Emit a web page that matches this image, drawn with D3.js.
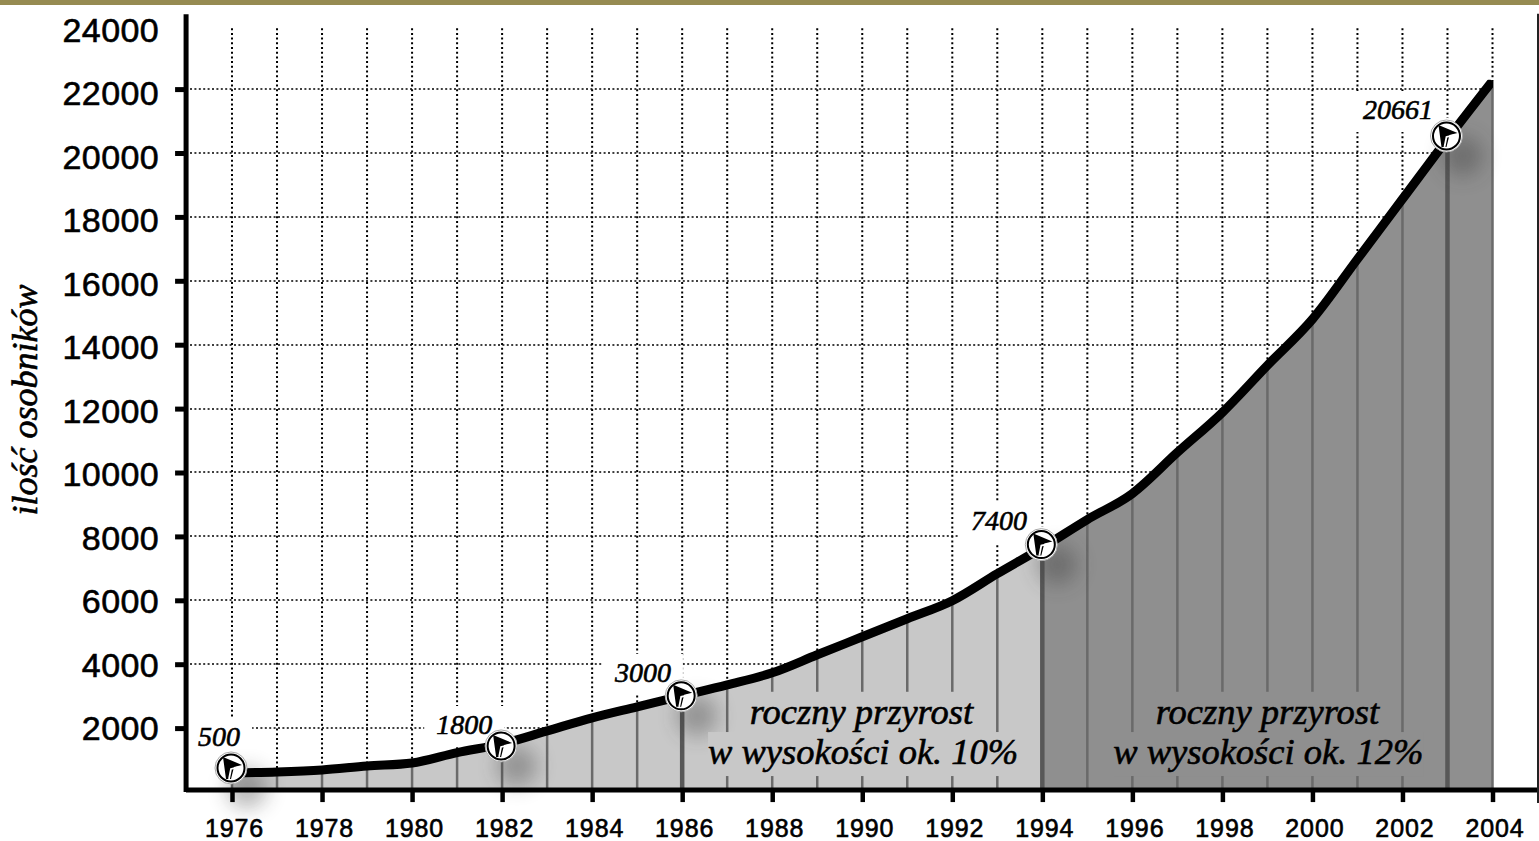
<head>
    <meta name="viewport" content="width=device-width, initial-scale=1">
    <style>
        body { margin: 0; background: #fff; overflow: hidden; }
        #band { height: 5px; background: #968b52; }
        #chart { position: absolute; left: 0; top: 0; }
        .sans { font-family: "Liberation Sans", sans-serif; fill: #000; stroke: #000; stroke-width: 0.6px; }
        .serif { font-family: "Liberation Serif", serif; font-style: italic; fill: #000; stroke: #000; stroke-width: 0.6px; }
    </style>
    <script src="https://d3js.org/d3.v7.min.js"></script>
</head>
<body>
    <div id="band"></div>
    <div id="chart"></div>
    <script>

        var years = d3.range(1976, 2005);
        var population = [595, 627, 690, 815, 909, 1232, 1505, 1912, 2320, 2665, 3010, 3354, 3730, 4295, 4859,
            5423, 5987, 6834, 7650, 8527, 9342, 10627, 11881, 13354, 14796, 16677, 18558, 20439, 22257];

        var yTicks = [2000, 4000, 6000, 8000, 10000, 12000, 14000, 16000, 18000, 20000, 22000, 24000];
        var xTicks = d3.range(1976, 2005, 2);
        var thickYears = [1986, 1994, 2003];
        var splitYear = 1994;

        var markerYears = [1976, 1982, 1986, 1994, 2003];
        var markerValues = [752, 1442, 3010, 7743, 20533];
        var markerLabels = ["500", "1800", "3000", "7400", "20661"];
        var labelYears = [1976.18, 1981.78, 1985.75, 1993.66, 2002.68];
        var labelValues = [1440, 1815, 3443, 8200, 21064];

        var noteLines = ["roczny przyrost", "w wysokości ok. 10%", "roczny przyrost", "w wysokości ok. 12%"];
        var noteYears = [1989.98, 1990.02, 1999, 1999.02];
        var noteValues = [2135, 875, 2135, 875];
        var axisTitle = "ilość osobników";

        var W = 1539, H = 841;

        var svg = d3.select("#chart").append("svg")
            .attr("width", W)
            .attr("height", H);

        var x = d3.scaleLinear().domain([1976, 2004]).range([232, 1492.5]);
        var y = d3.scaleLinear().domain([0, 24000]).range([792, 25.2]);
        var yLabel = d3.scaleLinear().domain([2000, 22000]).range([727.5, 92.5]);

        var base = 60;
        var data = years.map(function(d, i) { return { year: d, value: population[i] }; });

        var defs = svg.append("defs");
        defs.append("filter").attr("id", "blur")
            .attr("x", "-80%").attr("y", "-80%").attr("width", "260%").attr("height", "260%")
            .append("feGaussianBlur").attr("stdDeviation", 10);
        defs.append("clipPath").attr("id", "lineClip")
            .append("rect")
            .attr("x", 0).attr("y", y(22290))
            .attr("width", x(2004) + 0.5).attr("height", H);

        // grid, dotted
        var grid = svg.append("g");
        grid.selectAll(".v").data(years).enter().append("line")
            .attr("x1", d => x(d)).attr("x2", d => x(d))
            .attr("y1", y(24000) + 3).attr("y2", d => y(population[years.indexOf(d)]))
            .attr("stroke", "#000").attr("stroke-width", 2).attr("stroke-dasharray", "2 2.7");
        grid.selectAll(".h").data(yTicks.filter(d => d < 24000)).enter().append("line")
            .attr("x1", x(1976) - 42).attr("x2", x(2004))
            .attr("y1", d => Math.round(y(d))).attr("y2", d => Math.round(y(d)))
            .attr("stroke", "#000").attr("stroke-width", 1.6).attr("stroke-dasharray", "2 2.4");

        var labelMasks = svg.append("g");
        var markerMasks = svg.append("g");

        // area under the curve
        var curve = d3.curveMonotoneX;
        var area = d3.area().curve(curve).x(d => x(d.year)).y0(y(base)).y1(d => y(d.value));
        svg.append("path").datum(data.filter(d => d.year <= splitYear))
            .attr("d", area).attr("fill", "#c8c8c8");
        svg.append("path").datum(data.filter(d => d.year >= splitYear))
            .attr("d", area).attr("fill", "#8f8f8f");

        svg.append("g").selectAll("line").data(data).enter().append("line")
            .attr("x1", d => x(d.year)).attr("x2", d => x(d.year))
            .attr("y1", d => y(d.value)).attr("y2", y(base))
            .attr("stroke", d => thickYears.includes(d.year) ? "#585858" : "#6a6a6a")
            .attr("stroke-width", d => thickYears.includes(d.year) ? 4.5 : 2.5);

        // soft shadows next to the markers
        svg.append("g").selectAll("circle").data(markerYears).enter().append("circle")
            .attr("cx", d => x(d) + 15)
            .attr("cy", (d, i) => y(markerValues[i]) + 20)
            .attr("r", 20)
            .attr("fill", "#333").attr("opacity", 0.35)
            .attr("filter", "url(#blur)");

        var noteMasks = svg.append("g");

        svg.append("path").datum(data)
            .attr("d", d3.line().curve(curve).x(d => x(d.year)).y(d => y(d.value)))
            .attr("clip-path", "url(#lineClip)")
            .attr("fill", "none").attr("stroke", "#000").attr("stroke-width", 9)
            .attr("stroke-linejoin", "round");

        // axes
        var yAxis = svg.append("g").attr("class", "ax")
            .attr("transform", "translate(" + x(1974.98) + ",0)")
            .call(d3.axisLeft(y).tickValues(yTicks).tickSize(11).tickFormat(d3.format("d")));
        yAxis.select(".domain").remove();
        yAxis.selectAll("line").attr("stroke", "#000").attr("stroke-width", 5)
            .attr("opacity", d => d == 24000 ? 0 : 1);
        yAxis.selectAll("text")
            .attr("class", "sans")
            .attr("x", -27)
            .attr("dy", null)
            .attr("dominant-baseline", "central")
            .attr("y", d => yLabel(d) - y(d))
            .style("font-size", "34px")
            .style("letter-spacing", "0.4px");

        var xAxis = svg.append("g").attr("class", "ax")
            .attr("transform", "translate(0," + y(base) + ")")
            .call(d3.axisBottom(x).tickValues(xTicks).tickSize(12).tickFormat(d3.format("d")));
        xAxis.select(".domain").remove();
        xAxis.selectAll("line").attr("stroke", "#000").attr("stroke-width", 4.5);
        xAxis.selectAll("text")
            .attr("class", "sans")
            .attr("x", 2)
            .attr("y", 46.5)
            .attr("dy", null)
            .style("font-size", "25px")
            .style("letter-spacing", "0.9px");

        svg.append("line")
            .attr("x1", x(1976) - 46).attr("x2", W)
            .attr("y1", y(base)).attr("y2", y(base))
            .attr("stroke", "#000").attr("stroke-width", 5);
        svg.append("line")
            .attr("x1", x(1974.98)).attr("x2", x(1974.98))
            .attr("y1", y(24340)).attr("y2", y(base) + 2)
            .attr("stroke", "#000").attr("stroke-width", 5);
        svg.append("line")
            .attr("x1", W - 1).attr("x2", W - 1)
            .attr("y1", y(24360)).attr("y2", y(base) + 13)
            .attr("stroke", "#222").attr("stroke-width", 2);

        svg.append("text")
            .attr("class", "serif")
            .attr("transform", "translate(37,400) rotate(-90)")
            .attr("text-anchor", "middle")
            .style("font-size", "36px")
            .text(axisTitle);

        // notes inside the area, bands behind them cut the year lines
        noteLines.forEach(function(t, i) {
            var txt = svg.append("text")
                .attr("class", "serif")
                .attr("x", x(noteYears[i]))
                .attr("y", y(noteValues[i]))
                .attr("text-anchor", "middle")
                .style("font-size", "36.5px")
                .text(t);
            var b = txt.node().getBBox();
            noteMasks.append("rect")
                .attr("x", b.x).attr("y", b.y + 1)
                .attr("width", b.width).attr("height", b.height + 3)
                .attr("fill", noteYears[i] < splitYear ? "#c8c8c8" : "#8f8f8f");
        });

        // markers
        var marks = svg.append("g").selectAll("g").data(markerYears).enter().append("g")
            .attr("transform", (d, i) => "translate(" + (x(d) - 1) + "," + y(markerValues[i]) + ")");
        marks.append("circle").attr("r", 16).attr("fill", "#fff").attr("stroke", "#aaa").attr("stroke-width", 1);
        marks.append("circle").attr("r", 13.5).attr("fill", "#fff").attr("stroke", "#000").attr("stroke-width", 2);
        marks.append("path").attr("d", "M-8,-11 L11,-3 L3,-1 L0,11 L-5,11 Z").attr("fill", "#000");
        marks.append("path").attr("d", "M-2,11 L0,1 L9,-1").attr("fill", "none").attr("stroke", "#fff").attr("stroke-width", 1.8);

        markerYears.forEach(function(d, i) {
            markerMasks.append("circle")
                .attr("cx", x(d)).attr("cy", y(markerValues[i])).attr("r", 18).attr("fill", "#fff");
            var txt = svg.append("text")
                .attr("class", "serif")
                .attr("x", x(labelYears[i]))
                .attr("y", y(labelValues[i]))
                .attr("text-anchor", "end")
                .style("font-size", "28px")
                .text(markerLabels[i]);
            var b = txt.node().getBBox();
            labelMasks.append("rect")
                .attr("x", b.x - 12).attr("y", b.y - 3)
                .attr("width", b.width + 24).attr("height", b.height + 10)
                .attr("fill", "#fff");
        });

    </script>
</body>
